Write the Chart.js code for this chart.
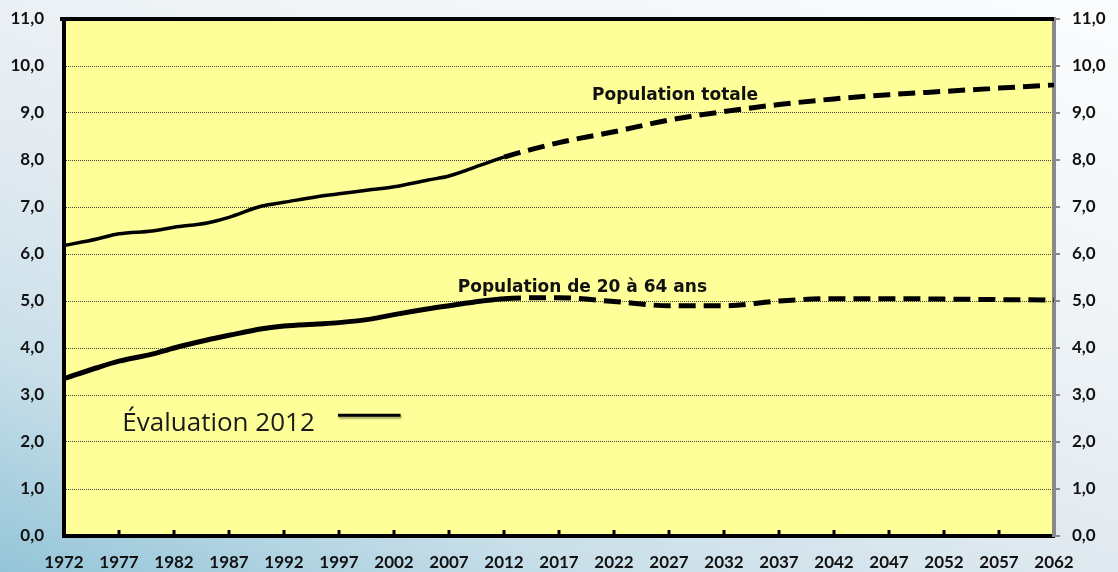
<!DOCTYPE html>
<html>
<head>
<meta charset="utf-8">
<script src="https://cdn.jsdelivr.net/npm/chart.js@4.4.1/dist/chart.umd.min.js"></script>
<style>
  html, body { margin: 0; padding: 0; }
  body {
    width: 1118px; height: 572px; overflow: hidden;
    background: linear-gradient(20deg, #94c5d8 0%, #c9dfe9 22%, #e3ebf1 45%, #f1f5f8 70%, #fbfcfd 100%);
  }
</style>
</head>
<body>
<canvas id="c" width="1118" height="572"></canvas>
<script>
const years = [1972, 1975, 1977, 1980, 1982, 1985, 1987, 1990, 1992, 1995, 1997, 2000, 2002, 2005, 2007, 2010, 2012,
  2017, 2022, 2027, 2032, 2037, 2042, 2047, 2052, 2057, 2062];
// millions
const popTotale = [6.18, 6.32, 6.43, 6.49, 6.57, 6.66, 6.78, 7.02, 7.10, 7.22, 7.28, 7.37, 7.43, 7.57, 7.66, 7.90, 8.06,
  8.37, 8.60, 8.85, 9.03, 9.18, 9.30, 9.39, 9.46, 9.53, 9.60];
const pop20a64 = [3.35, 3.58, 3.72, 3.87, 4.00, 4.17, 4.27, 4.41, 4.47, 4.51, 4.54, 4.62, 4.71, 4.83, 4.90, 5.00, 5.05,
  5.07, 4.99, 4.90, 4.90, 5.00, 5.05, 5.05, 5.04, 5.03, 5.02];
const lastObserved = 2012;
const xTickYears = [1972, 1977, 1982, 1987, 1992, 1997, 2002, 2007, 2012, 2017, 2022, 2027, 2032, 2037, 2042, 2047, 2052, 2057, 2062];
const yTickValues = [0, 1, 2, 3, 4, 5, 6, 7, 8, 9, 10, 11];

const seriesLabels = ['Population totale', 'Population de 20 à 64 ans'];
const legendText = 'Évaluation 2012';

const tickFont = { family: 'Lato', weight: 'bold', size: 17 };
const fmtY = v => v.toFixed(1).replace('.', ',');
const dashed = ctx => ctx.p0.parsed.x >= lastObserved ? [17, 8] : undefined;
// fixed box sizes so the plot sits where it does in the original
const fitBox = (w, h) => s => {
  if (w) s.width = w;
  if (h) s.height = h;
  s.paddingTop = s.paddingBottom = s.paddingLeft = s.paddingRight = 0;
};

const frame = {
  id: 'frame',
  beforeDraw(chart) {
    const { ctx, chartArea: a } = chart;
    ctx.save();
    ctx.fillStyle = '#ffff99';
    ctx.fillRect(a.left, a.top, a.width, a.height);
    ctx.restore();
  },
  beforeDatasetsDraw(chart) {
    const { ctx, chartArea: a, scales: { x } } = chart;
    ctx.save();
    // top edge
    ctx.strokeStyle = '#000'; ctx.lineWidth = 4;
    ctx.beginPath(); ctx.moveTo(a.left - 4, a.top); ctx.lineTo(a.right, a.top); ctx.stroke();
    // inner tick marks on the year axis
    ctx.lineWidth = 3;
    xTickYears.slice(1, -1).forEach(yr => {
      const px = x.getPixelForValue(yr);
      ctx.beginPath(); ctx.moveTo(px, a.bottom); ctx.lineTo(px, a.bottom - 6); ctx.stroke();
    });
    ctx.restore();
  },
  afterDatasetsDraw(chart) {
    const { ctx, scales: { x, y } } = chart;
    ctx.save();
    ctx.fillStyle = '#111';
    ctx.font = 'bold 17px "DejaVu Sans"';
    ctx.textBaseline = 'alphabetic';
    ctx.fillText(seriesLabels[0], x.getPixelForValue(2020.0), y.getPixelForValue(9.28));
    ctx.fillText(seriesLabels[1], x.getPixelForValue(2007.8), y.getPixelForValue(5.19));
    ctx.font = '26px "Open Sans"';
    ctx.fillStyle = '#1a1a1a';
    ctx.fillText(legendText, x.getPixelForValue(1977.3), y.getPixelForValue(2.24));
    const ly = y.getPixelForValue(2.57);
    ctx.shadowColor = 'rgba(0,0,0,0.35)'; ctx.shadowOffsetX = 1; ctx.shadowOffsetY = 2; ctx.shadowBlur = 2;
    ctx.strokeStyle = '#000'; ctx.lineWidth = 3;
    ctx.beginPath(); ctx.moveTo(x.getPixelForValue(1996.9), ly); ctx.lineTo(x.getPixelForValue(2002.6), ly); ctx.stroke();
    ctx.restore();
  }
};

new Chart(document.getElementById('c'), {
  type: 'line',
  data: {
    datasets: [
      { label: seriesLabels[0], data: years.map((yr, i) => ({ x: yr, y: popTotale[i] })),
        borderColor: '#000', borderWidth: 3.5, segment: { borderDash: dashed, borderWidth: c => c.p0.parsed.x >= lastObserved ? 5 : undefined } },
      { label: seriesLabels[1], data: years.map((yr, i) => ({ x: yr, y: pop20a64[i] })),
        borderColor: '#000', borderWidth: 5, segment: { borderDash: dashed } },
    ],
  },
  options: {
    responsive: false,
    animation: false,
    devicePixelRatio: 1,
    layout: { padding: { top: 19, left: 0, right: 0, bottom: 0 } },
    elements: { point: { radius: 0 }, line: { cubicInterpolationMode: 'monotone', borderCapStyle: 'butt' } },
    plugins: { legend: { display: false }, tooltip: { enabled: false } },
    scales: {
      x: {
        type: 'linear', min: 1972, max: 2062,
        afterBuildTicks: s => { s.ticks = xTickYears.map(v => ({ value: v })); },
        afterFit: fitBox(0, 36),
        ticks: { callback: v => String(v), font: tickFont, color: '#111', padding: 8, maxRotation: 0, autoSkip: false },
        grid: { display: false },
        border: { display: true, color: '#000', width: 4 },
      },
      y: {
        position: 'left', min: 0, max: 11,
        afterBuildTicks: s => { s.ticks = yTickValues.map(v => ({ value: v })); },
        afterFit: fitBox(64, 0),
        ticks: { callback: fmtY, font: tickFont, color: '#111', padding: 20 },
        grid: { color: '#444', lineWidth: 1, drawTicks: false },
        border: { display: true, color: '#000', width: 4, dash: [1, 1] },
      },
      y2: {
        position: 'right', min: 0, max: 11,
        afterBuildTicks: s => { s.ticks = yTickValues.map(v => ({ value: v })); },
        afterFit: fitBox(64, 0),
        ticks: { callback: fmtY, font: tickFont, color: '#111', padding: 12 },
        grid: { drawOnChartArea: false, color: '#8a8a8a', lineWidth: 2, tickLength: 6 },
        border: { display: true, color: '#8a8a8a', width: 4 },
      },
    },
  },
  plugins: [frame],
});
</script>
</body>
</html>
